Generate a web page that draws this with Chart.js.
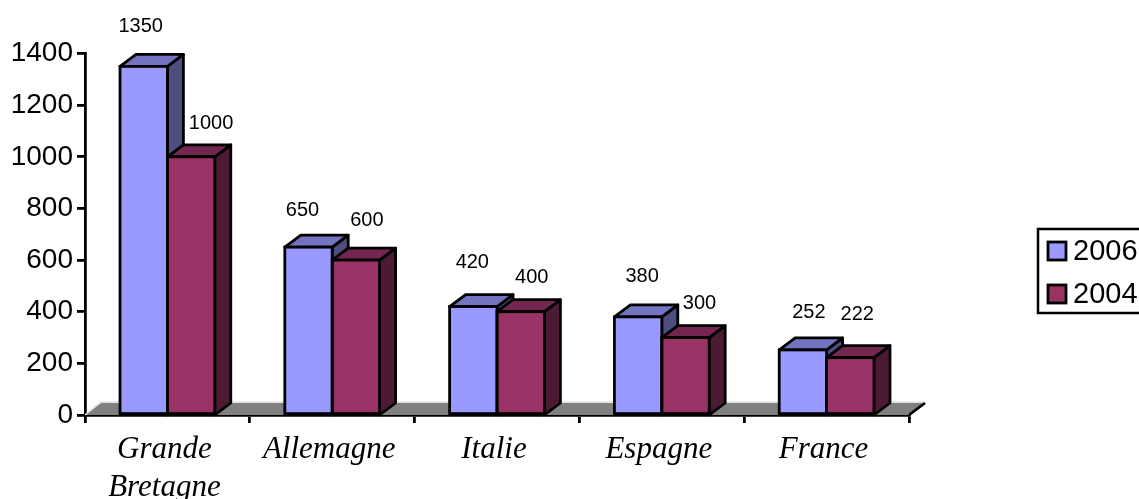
<!DOCTYPE html>
<html>
<head>
<meta charset="utf-8">
<style>
  html, body { margin: 0; padding: 0; background: #fff; overflow: hidden; }
  canvas { display: block; }
</style>
<script src="https://cdn.jsdelivr.net/npm/chart.js@4"></script>
</head>
<body>
<canvas id="tourismChart" width="1139" height="499"></canvas>
<script>
const categories = [["Grande", "Bretagne"], "Allemagne", "Italie", "Espagne", "France"];
const seriesNames = ["2006", "2004"];
const values2006 = [1350, 650, 420, 380, 252];
const values2004 = [1000, 600, 400, 300, 222];

const faceColors = ["#9999FF", "#993366"];
const topColors = ["#7373BF", "#732650"];
const sideColors = ["#4D4D80", "#4D1A33"];

const lineW = 2.8;
const depthX = 16;
const depthY = 12;

// hand placed offsets of the value labels, per dataset then category
const labelNudge = [
    [[-3, -40], [-6, -37], [-1, -44], [4, -40], [6, -37]],
    [[20, -33], [11, -40], [11, -34], [14, -34], [7, -43]]
];

function poly(ctx, pts, fill, stroke) {
    ctx.beginPath();
    pts.forEach((p, i) => i ? ctx.lineTo(p[0], p[1]) : ctx.moveTo(p[0], p[1]));
    ctx.closePath();
    ctx.fillStyle = fill;
    ctx.fill();
    if (stroke) {
        ctx.strokeStyle = stroke;
        ctx.lineWidth = lineW;
        ctx.lineJoin = "round";
        ctx.stroke();
    }
}

const box3d = {
    id: "box3d",
    beforeDatasetsDraw(chart) {
        const ctx = chart.ctx;
        const area = chart.chartArea;
        const y0 = chart.scales.y.getPixelForValue(0);

        // floor
        ctx.save();
        poly(ctx, [[area.left, y0], [area.left + depthX, y0 - depthY], [area.right + depthX, y0 - depthY], [area.right, y0]], "#808080");
        ctx.lineWidth = 1.5;
        ctx.strokeStyle = "#E0E0E0";
        ctx.beginPath();
        ctx.moveTo(area.left, y0);
        ctx.lineTo(area.left + depthX, y0 - depthY - 1);
        ctx.lineTo(area.right + depthX, y0 - depthY - 1);
        ctx.stroke();
        ctx.strokeStyle = "#000";
        ctx.lineWidth = lineW;
        ctx.beginPath();
        ctx.moveTo(area.right, y0);
        ctx.lineTo(area.right + depthX, y0 - depthY);
        ctx.stroke();

        // sides and tops, first series first so the second covers it
        categories.forEach((c, i) => {
            [0, 1].forEach(d => {
                const bar = chart.getDatasetMeta(d).data[i];
                const half = bar.width / 2;
                const l = bar.x - half, r = bar.x + half;
                const t = bar.y, b = y0;
                poly(ctx, [[r, t], [r + depthX, t - depthY], [r + depthX, b - depthY], [r, b]], sideColors[d], "#000");
                poly(ctx, [[l, t], [l + depthX, t - depthY], [r + depthX, t - depthY], [r, t]], topColors[d], "#000");
            });
        });
        ctx.restore();
    },
    afterDatasetsDraw(chart) {
        const ctx = chart.ctx;
        ctx.save();

        // front outlines go over the filled bars
        ctx.strokeStyle = "#000";
        ctx.lineWidth = lineW;
        [0, 1].forEach(d => {
            chart.getDatasetMeta(d).data.forEach(bar => {
                ctx.strokeRect(bar.x - bar.width / 2, bar.y, bar.width, bar.base - bar.y);
            });
        });

        ctx.font = "20px 'Liberation Sans'";
        ctx.fillStyle = "#000";
        ctx.textAlign = "center";
        ctx.textBaseline = "middle";
        [values2006, values2004].forEach((vals, d) => {
            const bars = chart.getDatasetMeta(d).data;
            vals.forEach((v, i) => {
                const n = labelNudge[d][i];
                ctx.fillText(String(v), bars[i].x + n[0], bars[i].y + n[1]);
            });
        });
        ctx.restore();
    },
    afterDraw(chart) {
        // legend box, cut by the right edge like the reference
        const ctx = chart.ctx;
        ctx.save();
        ctx.strokeStyle = "#000";
        ctx.lineWidth = 2.5;
        ctx.strokeRect(1038, 229, 120, 84);
        ctx.font = "29px 'Liberation Sans'";
        ctx.textBaseline = "middle";
        chart.data.datasets.forEach((ds, i) => {
            const y = 242 + i * 43;
            ctx.fillStyle = ds.backgroundColor;
            ctx.fillRect(1048, y, 18, 18);
            ctx.lineWidth = lineW;
            ctx.strokeRect(1048, y, 18, 18);
            ctx.fillStyle = "#000";
            ctx.fillText(ds.label, 1073, y + 10);
        });
        ctx.restore();
    }
};

new Chart(document.getElementById("tourismChart"), {
    type: "bar",
    data: {
        labels: categories,
        datasets: [
            { label: seriesNames[0], data: values2006, backgroundColor: faceColors[0] },
            { label: seriesNames[1], data: values2004, backgroundColor: faceColors[1] }
        ]
    },
    options: {
        responsive: false,
        animation: false,
        devicePixelRatio: 1,
        layout: { padding: { top: 53.5, right: 230, left: 0, bottom: 0 } },
        datasets: {
            bar: {
                categoryPercentage: 0.575,
                barPercentage: 1,
                borderWidth: 0
            }
        },
        plugins: {
            legend: { display: false },
            tooltip: { enabled: false }
        },
        scales: {
            x: {
                afterFit: s => { s.height = 84; },
                border: { color: "#000", width: lineW },
                grid: { drawOnChartArea: false, color: "#000", lineWidth: lineW, tickLength: 8 },
                ticks: {
                    color: "#000",
                    maxRotation: 0,
                    padding: 8,
                    labelOffset: -3,
                    font: { family: "'Liberation Serif'", style: "italic", size: 31, lineHeight: 1.23 }
                }
            },
            y: {
                min: 0,
                max: 1400,
                afterFit: s => { s.width = 85; },
                border: { color: "#000", width: lineW },
                grid: { drawOnChartArea: false, color: "#000", lineWidth: lineW, tickLength: 8 },
                ticks: {
                    stepSize: 200,
                    color: "#000",
                    padding: 4,
                    font: { family: "'Liberation Sans'", size: 28 },
                    callback: v => String(v)
                }
            }
        }
    },
    plugins: [box3d]
});
</script>
</body>
</html>
